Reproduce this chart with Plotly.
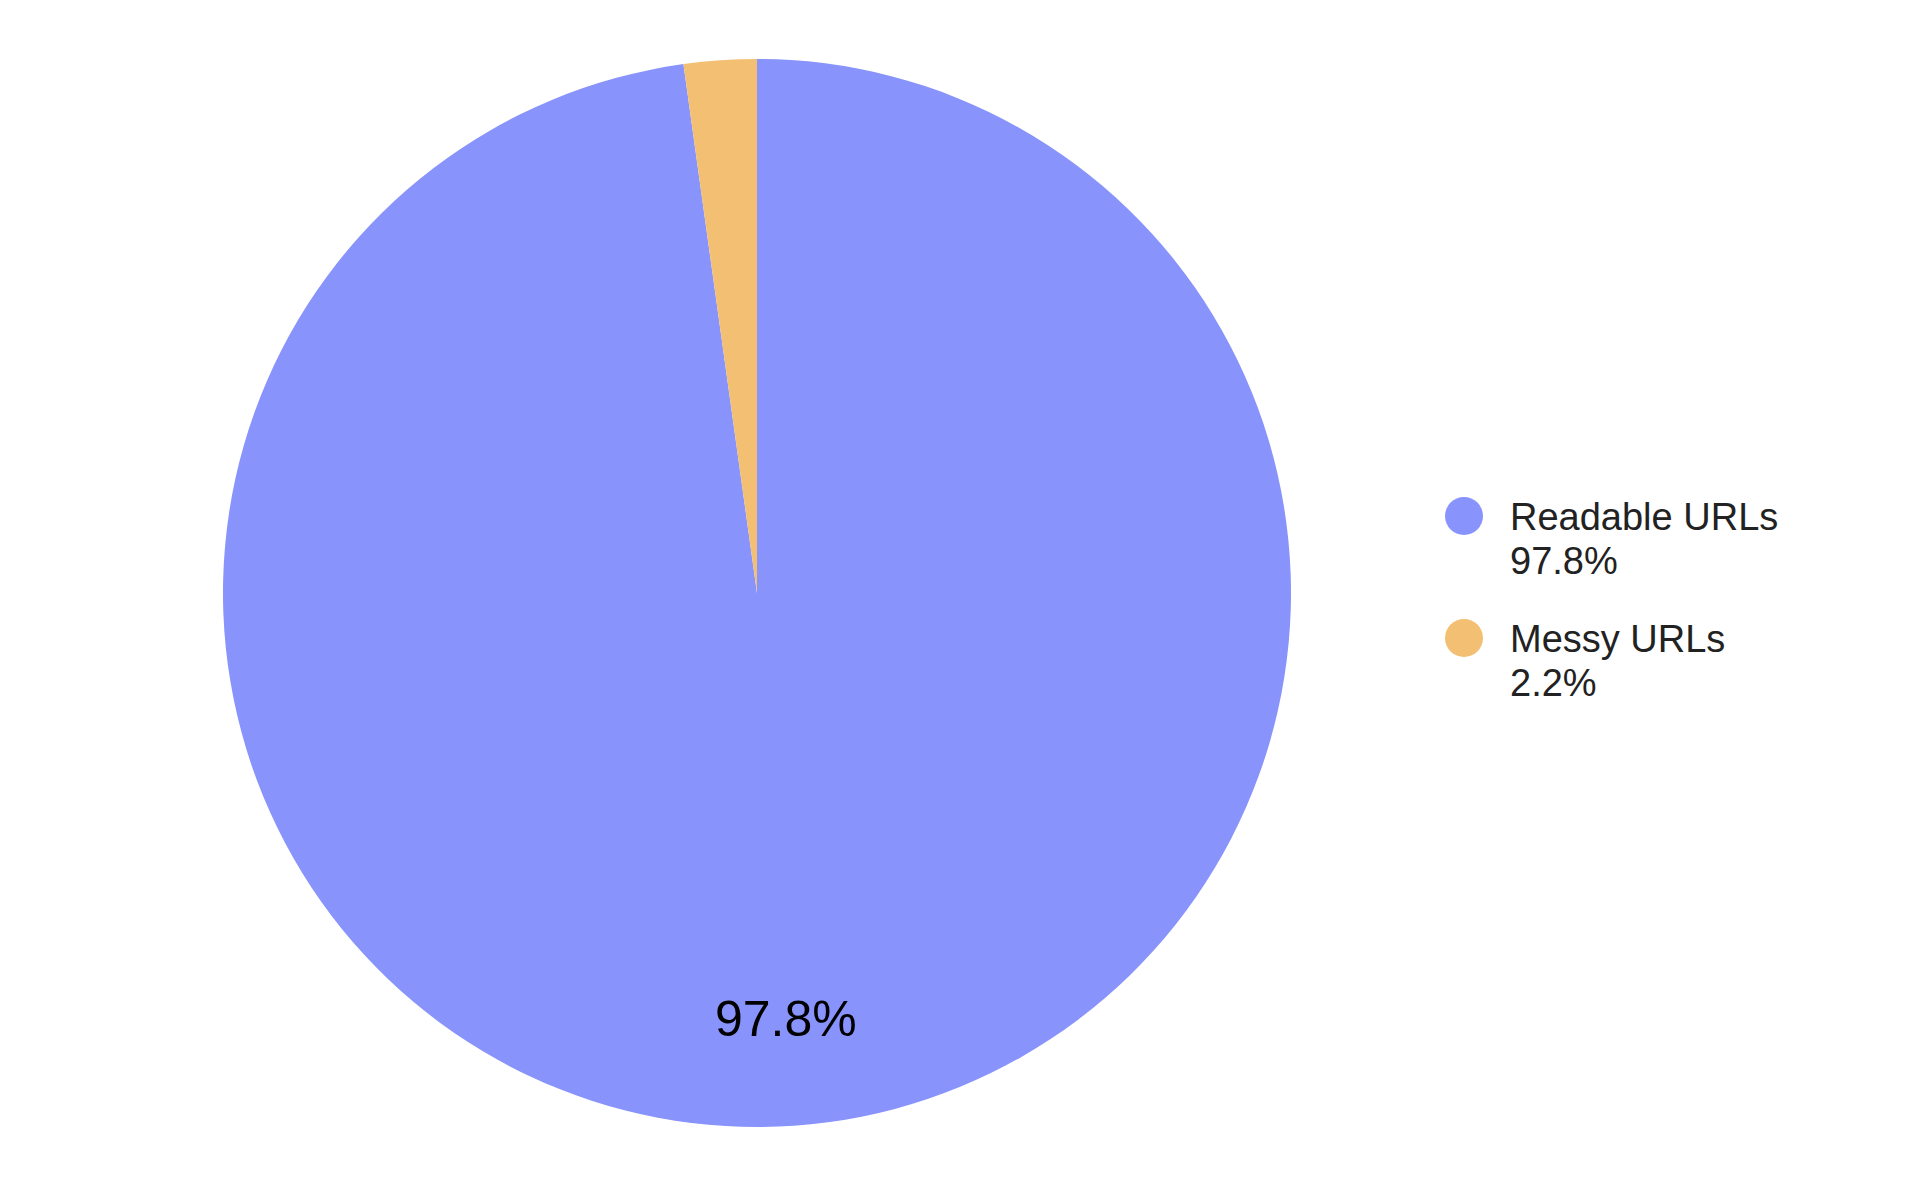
import math
import plotly.graph_objects as go

# Data
labels = ["Readable URLs", "Messy URLs"]
values = [97.8, 2.2]
colors = ["#8893FB", "#F3C073"]

W, H = 1920, 1187
T, B = 51, 68
PH = H - T - B           # plot height = pie diameter
PIE_X1 = 0.7802          # pie domain right edge

fig = go.Figure()

fig.add_trace(go.Pie(
    labels=labels, values=values, sort=False, direction="clockwise", rotation=0,
    marker=dict(colors=colors, line=dict(width=0)),
    textinfo="none",
    domain=dict(x=[0, PIE_X1], y=[0, 1]),
    showlegend=False, hoverinfo="label+percent",
))

# slice label for the big slice, placed near the rim at its mid-angle
total = sum(values)
mid = math.radians(360 * values[0] / total / 2)
r_px = 0.8 * PH / 2
cx, cy = PIE_X1 / 2, 0.5
fig.add_annotation(xref="paper", yref="paper",
                   x=cx + r_px * math.sin(mid) / W, y=cy + r_px * math.cos(mid) / PH,
                   xanchor="center", yanchor="middle",
                   text=f"{values[0]}%", showarrow=False,
                   font=dict(size=50, color="#000000", family="Liberation Sans, Arial"))

# custom legend: round dots + two-line labels
def px(x):
    return (x - 8) / W

def py(y):
    return 1 - (y - 8 - T) / PH

leg_y = [516, 638]
for i, (lab, val, col) in enumerate(zip(labels, values, colors)):
    y0 = leg_y[i]
    fig.add_shape(type="circle", xref="paper", yref="paper",
                  xsizemode="pixel", ysizemode="pixel",
                  xanchor=px(1464), yanchor=py(y0),
                  x0=-19, x1=19, y0=-19, y1=19,
                  fillcolor=col, line=dict(width=0))
    for j, line in enumerate([lab, f"{val}%"]):
        fig.add_annotation(xref="paper", yref="paper", x=px(1508), y=py(y0 + 1 + 44 * j),
                           xanchor="left", yanchor="middle", showarrow=False,
                           text=line,
                           font=dict(size=38, color="#222222", family="Liberation Sans, Arial"))

fig.update_layout(
    width=W, height=H,
    margin=dict(l=0, r=0, t=T, b=B),
    paper_bgcolor="white", plot_bgcolor="white",
    font=dict(family="Liberation Sans, Arial"),
)

fig.write_html("out.html")
